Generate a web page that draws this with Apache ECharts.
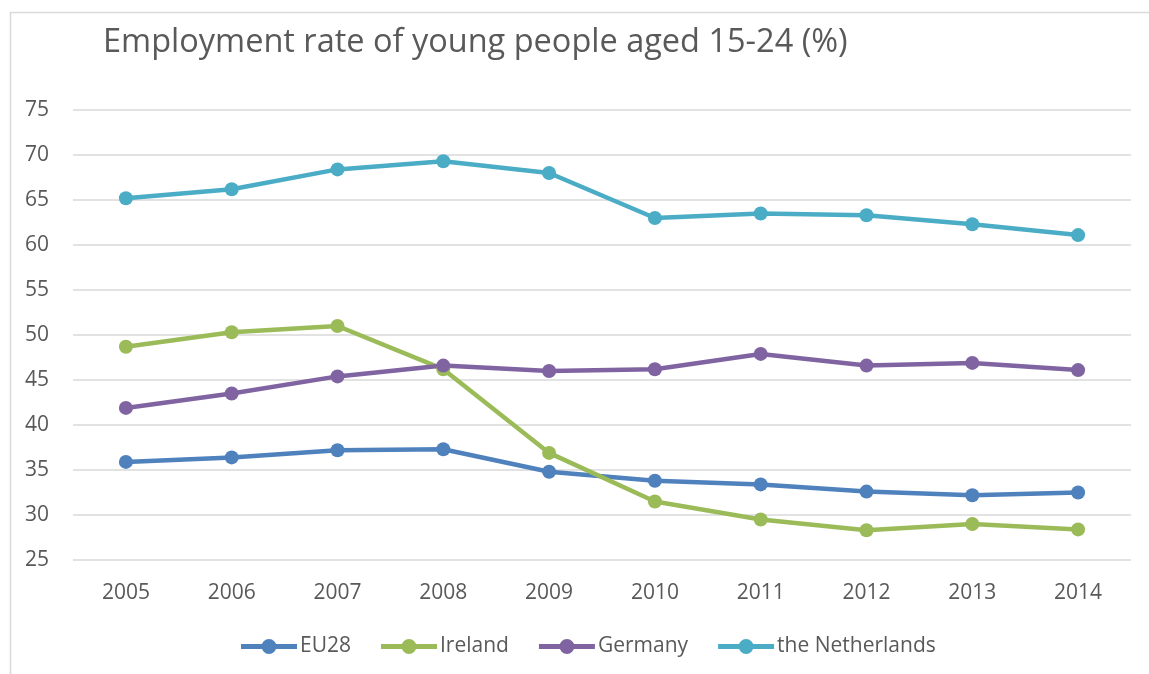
<!DOCTYPE html>
<html>
<head>
<meta charset="utf-8">
<script src="https://cdn.jsdelivr.net/npm/echarts@6/dist/echarts.min.js"></script>
<style>
  html, body { margin: 0; padding: 0; background: #fff; }
  #chart { width: 1149px; height: 674px; }
</style>
</head>
<body>
<div id="chart"></div>
<script>
// Youth employment rate, ages 15-24 (%), 2005-2014
const years = ['2005', '2006', '2007', '2008', '2009', '2010', '2011', '2012', '2013', '2014'];
const eu28 = [35.9, 36.4, 37.2, 37.3, 34.8, 33.8, 33.4, 32.6, 32.2, 32.5];
const ireland = [48.7, 50.3, 51.0, 46.2, 36.9, 31.5, 29.5, 28.3, 29.0, 28.4];
const germany = [41.9, 43.5, 45.4, 46.6, 46.0, 46.2, 47.9, 46.6, 46.9, 46.1];
const netherlands = [65.2, 66.2, 68.4, 69.3, 68.0, 63.0, 63.5, 63.3, 62.3, 61.1];
const seriesNames = ['EU28', 'Ireland', 'Germany', 'the Netherlands'];
const seriesColors = ['#4F81BD', '#9BBB59', '#8064A2', '#4BACC6'];

const font = '"Open Sans", "Noto Sans", sans-serif';
const textColor = '#595959';

// Legend key: a thick line segment with a round marker in the middle
const legendIcon = 'path://M0,4.5 L56,4.5 L56,9.5 L0,9.5 Z M20.5,7 A7.5,7.5 0 1,1 35.5,7 A7.5,7.5 0 1,1 20.5,7 Z';

const chart = echarts.init(document.getElementById('chart'), null, { renderer: 'canvas' });

function lineSeries(name, data, color) {
  return {
    name: name,
    type: 'line',
    data: data,
    symbol: 'circle',
    symbolSize: 14,
    showAllSymbol: true,
    lineStyle: { color: color, width: 4.5 },
    itemStyle: { color: color },
    emphasis: { disabled: true },
    animation: false
  };
}

chart.setOption({
  animation: false,
  graphic: [{
    type: 'rect',
    left: 8, top: 10,
    shape: { width: 1160, height: 700 },
    style: { fill: 'none', stroke: '#d9d9d9', lineWidth: 1.5 },
    silent: true,
    z: -10
  }],
  title: {
    text: 'Employment rate of young people aged 15-24 (%)',
    left: 98, top: 21,
    textStyle: { fontFamily: font, fontSize: 32.5, fontWeight: 'normal', color: textColor }
  },
  legend: {
    bottom: 12,
    left: 236,
    icon: legendIcon,
    itemWidth: 56,
    itemHeight: 15,
    itemGap: 30,
    data: seriesNames,
    textStyle: { fontFamily: font, fontSize: 21, color: textColor, padding: [2, 0, 0, -2] }
  },
  grid: { left: 73, right: 18, top: 110, bottom: 114 },
  xAxis: {
    type: 'category',
    data: years,
    boundaryGap: true,
    axisLine: { show: false },
    axisTick: { show: false },
    axisLabel: { fontFamily: font, fontSize: 21, color: textColor, margin: 23 }
  },
  yAxis: {
    type: 'value',
    min: 25, max: 75, interval: 5,
    axisLine: { show: false },
    axisTick: { show: false },
    axisLabel: { fontFamily: font, fontSize: 21, color: textColor, margin: 24 },
    splitLine: { lineStyle: { color: '#d9d9d9', width: 1.5 } }
  },
  series: [
    lineSeries(seriesNames[0], eu28, seriesColors[0]),
    lineSeries(seriesNames[1], ireland, seriesColors[1]),
    lineSeries(seriesNames[2], germany, seriesColors[2]),
    lineSeries(seriesNames[3], netherlands, seriesColors[3])
  ]
});
</script>
</body>
</html>
